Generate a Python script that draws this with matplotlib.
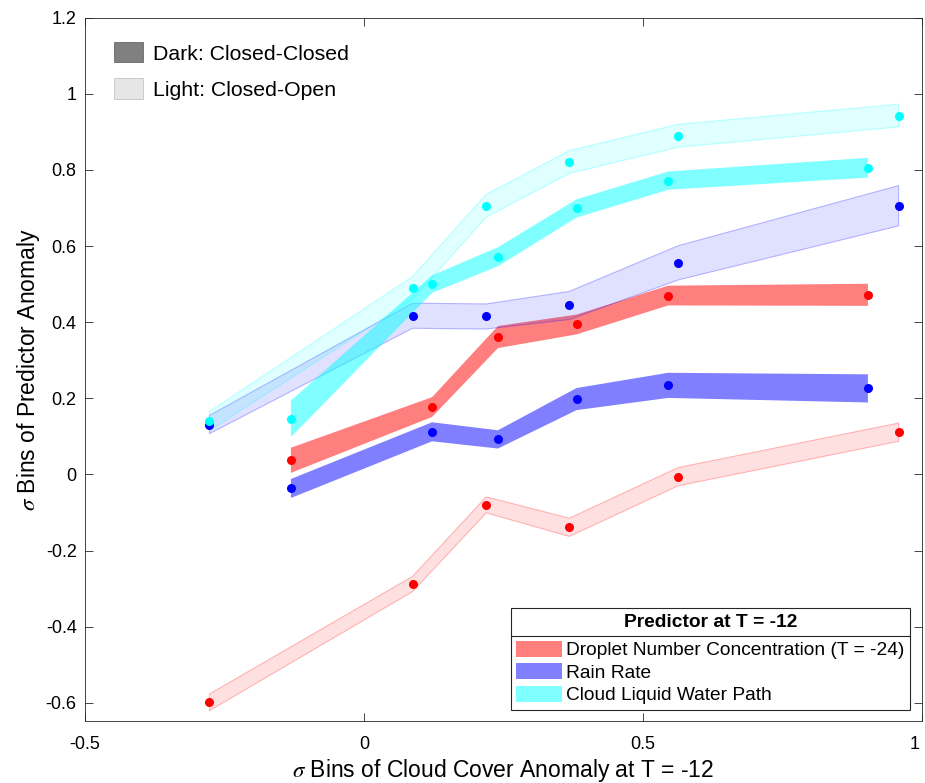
import matplotlib
matplotlib.use("Agg")
import matplotlib.pyplot as plt
import matplotlib.transforms as mtransforms
from matplotlib.patches import Patch
from matplotlib.lines import Line2D

plt.rcParams['font.family'] = ['Liberation Sans', 'DejaVu Sans']
plt.rcParams['mathtext.fontset'] = 'stix'

# bin centres of cloud cover anomaly
x_open = [-0.277, 0.087, 0.219, 0.368, 0.563, 0.958]     # closed-open (light)
x_closed = [-0.131, 0.122, 0.240, 0.381, 0.545, 0.903]   # closed-closed (dark)

# droplet number concentration (T = -24)
nd_closed = [0.037, 0.177, 0.361, 0.394, 0.470, 0.472]
nd_closed_err = [0.033, 0.026, 0.029, 0.026, 0.026, 0.029]
nd_open = [-0.599, -0.288, -0.080, -0.139, -0.006, 0.111]
nd_open_err = [0.022, 0.020, 0.021, 0.024, 0.024, 0.024]

# rain rate
rr_closed = [-0.037, 0.112, 0.092, 0.198, 0.234, 0.226]
rr_closed_err = [0.025, 0.025, 0.024, 0.029, 0.033, 0.037]
rr_open = [0.131, 0.417, 0.415, 0.444, 0.556, 0.706]
rr_open_err = [0.024, 0.033, 0.033, 0.037, 0.045, 0.053]

# cloud liquid water path
lwp_closed = [0.146, 0.500, 0.572, 0.699, 0.772, 0.806]
lwp_closed_err = [0.048, 0.023, 0.025, 0.024, 0.024, 0.026]
lwp_open = [0.140, 0.490, 0.706, 0.821, 0.890, 0.943]
lwp_open_err = [0.025, 0.030, 0.030, 0.030, 0.030, 0.030]

names = ['Droplet Number Concentration (T = -24)', 'Rain Rate', 'Cloud Liquid Water Path']
colors = ['red', 'blue', 'cyan']

yticks = [-0.6, -0.4, -0.2, 0, 0.2, 0.4, 0.6, 0.8, 1, 1.2]
ytick_labels = ['-0.6', '-0.4', '-0.2', '0', '0.2', '0.4', '0.6', '0.8', '1', '1.2']
xticks = [-0.5, 0, 0.5, 1]
xtick_labels = ['-0.5', '0', '0.5', '1']

series = [
    (nd_closed, nd_closed_err, nd_open, nd_open_err),
    (rr_closed, rr_closed_err, rr_open, rr_open_err),
    (lwp_closed, lwp_closed_err, lwp_open, lwp_open_err),
]

fig = plt.figure(figsize=(9.25, 7.83), dpi=100)
ax = fig.add_axes([0.0919, 0.0792, 0.9049, 0.8981])

for (yc, ec, yo, eo), col in zip(series, colors):
    lo = [a - b for a, b in zip(yc, ec)]
    hi = [a + b for a, b in zip(yc, ec)]
    ax.fill_between(x_closed, lo, hi, facecolor=col, alpha=0.5, edgecolor='none', zorder=2)
    lo = [a - b for a, b in zip(yo, eo)]
    hi = [a + b for a, b in zip(yo, eo)]
    ax.fill_between(x_open, lo, hi, facecolor=col, alpha=0.12, edgecolor='none', zorder=2)
    ax.fill_between(x_open, lo, hi, facecolor='none', edgecolor=col, alpha=0.25, lw=0.8, zorder=2)

for (yc, ec, yo, eo), col in zip(series, colors):
    ax.plot(x_closed, yc, 'o', color=col, ms=6.5, mec='none', zorder=3)
    ax.plot(x_open, yo, 'o', color=col, ms=6.5, mec='none', zorder=3)

ax.set_xlim(-0.5, 1)
ax.set_ylim(-0.648, 1.2)
ax.set_xticks(xticks)
ax.set_xticklabels(xtick_labels)
ax.set_yticks(yticks)
ax.set_yticklabels(ytick_labels)
ax.tick_params(direction='in', length=6, width=0.6, color='#262626',
               labelsize=13, top=True, right=True)
ax.tick_params(axis='x', pad=11)
ax.tick_params(axis='y', pad=6)
for s in ax.spines.values():
    s.set_color('#262626')
    s.set_linewidth(0.6)

# keep the last x label inside the picture
last = ax.get_xticklabels()[-1]
last.set_transform(last.get_transform() +
                   mtransforms.ScaledTranslation(-7 / 100, 0, fig.dpi_scale_trans))

ax.set_xlabel(r'$\sigma$ Bins of Cloud Cover Anomaly at T = -12', fontsize=16.5, labelpad=3)
ax.set_ylabel(r'$\sigma$ Bins of Predictor Anomaly', fontsize=16.5, labelpad=3)

# closed-closed vs closed-open key
key = [Patch(facecolor='#808080', edgecolor='#6a6a6a', lw=0.6),
       Patch(facecolor='#e6e6e6', edgecolor='#c4c4c4', lw=0.6)]
leg1 = ax.legend(key, ['Dark: Closed-Closed', 'Light: Closed-Open'], loc='upper left',
                 bbox_to_anchor=(0.005, 1.0), frameon=False, fontsize=15.3,
                 handlelength=1.36, handleheight=1.08, labelspacing=0.7,
                 handletextpad=0.5, borderaxespad=0.75)
ax.add_artist(leg1)

handles = [Patch(facecolor=c, alpha=0.5, edgecolor='none') for c in colors]
leg2 = ax.legend(handles, names, loc='lower right', bbox_to_anchor=(0.986, 0.0156),
                 borderaxespad=0, fontsize=13.8, title='Predictor at T = -12',
                 title_fontsize=13.9, fancybox=False, framealpha=1, edgecolor='#262626',
                 handlelength=2.4, handleheight=0.9, labelspacing=0.2,
                 handletextpad=0.2, borderpad=0.3)
leg2.get_title().set_fontweight('bold')
leg2.get_frame().set_linewidth(0.8)
leg2._legend_box.sep = 7

fig.canvas.draw()
r = fig.canvas.get_renderer()
fb = leg2.get_frame().get_window_extent(r)
tb = leg2.get_title().get_window_extent(r)
hb = leg2.get_patches()[0].get_window_extent(r)
inv = fig.transFigure.inverted()
ysep = (tb.y0 + hb.y1) / 2
x0, y0 = inv.transform((fb.x0, ysep))
x1, _ = inv.transform((fb.x1, ysep))
fig.add_artist(Line2D([x0, x1], [y0, y0], transform=fig.transFigure,
                      color='#262626', lw=0.8))

fig.savefig('out.png', dpi=100)
